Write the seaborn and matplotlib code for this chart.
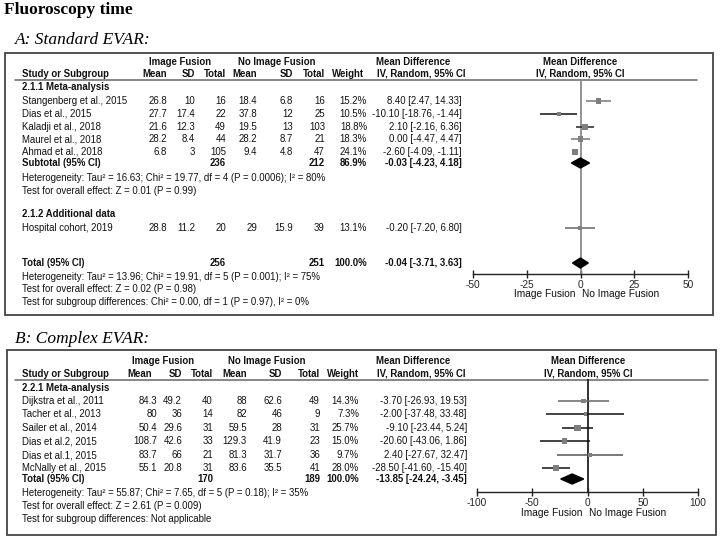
import matplotlib
matplotlib.use("Agg")
import matplotlib.pyplot as plt
import seaborn as sns
from matplotlib.patches import Rectangle

# ---- Panel A: Standard EVAR ----
studies_a = ["Stangenberg et al., 2015", "Dias et al., 2015", "Kaladji et al., 2018",
             "Maurel et al., 2018", "Ahmad et al., 2018"]
if_mean_a = [26.8, 27.7, 21.6, 28.2, 6.8]
if_sd_a = [10, 17.4, 12.3, 8.4, 3]
if_n_a = [16, 22, 49, 44, 105]
nif_mean_a = [18.4, 37.8, 19.5, 28.2, 9.4]
nif_sd_a = [6.8, 12, 13, 8.7, 4.8]
nif_n_a = [16, 25, 103, 21, 47]
weight_a = [15.2, 10.5, 18.8, 18.3, 24.1]
md_a = [8.40, -10.10, 2.10, 0.00, -2.60]
lo_a = [2.47, -18.76, -2.16, -4.47, -4.09]
hi_a = [14.33, -1.44, 6.36, 4.47, -1.11]
subtotal_a = [236, 212, 86.9, -0.03, -4.23, 4.18]

extra_study = ["Hospital cohort, 2019"]
extra_if = [28.8, 11.2, 20]
extra_nif = [29, 15.9, 39]
extra_weight = [13.1]
extra_md = [-0.20]
extra_lo = [-7.20]
extra_hi = [6.80]
total_a = [256, 251, 100.0, -0.04, -3.71, 3.63]

notes_a = [
    "Heterogeneity: Tau\u00b2 = 16.63; Chi\u00b2 = 19.77, df = 4 (P = 0.0006); I\u00b2 = 80%",
    "Test for overall effect: Z = 0.01 (P = 0.99)",
]
notes_total_a = [
    "Heterogeneity: Tau\u00b2 = 13.96; Chi\u00b2 = 19.91, df = 5 (P = 0.001); I\u00b2 = 75%",
    "Test for overall effect: Z = 0.02 (P = 0.98)",
    "Test for subgroup differences: Chi\u00b2 = 0.00, df = 1 (P = 0.97), I\u00b2 = 0%",
]
ticks_a = [-50, -25, 0, 25, 50]

# ---- Panel B: Complex EVAR ----
studies_b = ["Dijkstra et al., 2011", "Tacher et al., 2013", "Sailer et al., 2014",
             "Dias et al.2, 2015", "Dias et al.1, 2015", "McNally et al., 2015"]
if_mean_b = [84.3, 80, 50.4, 108.7, 83.7, 55.1]
if_sd_b = [49.2, 36, 29.6, 42.6, 66, 20.8]
if_n_b = [40, 14, 31, 33, 21, 31]
nif_mean_b = [88, 82, 59.5, 129.3, 81.3, 83.6]
nif_sd_b = [62.6, 46, 28, 41.9, 31.7, 35.5]
nif_n_b = [49, 9, 31, 23, 36, 41]
weight_b = [14.3, 7.3, 25.7, 15.0, 9.7, 28.0]
md_b = [-3.70, -2.00, -9.10, -20.60, 2.40, -28.50]
lo_b = [-26.93, -37.48, -23.44, -43.06, -27.67, -41.60]
hi_b = [19.53, 33.48, 5.24, 1.86, 32.47, -15.40]
total_b = [170, 189, 100.0, -13.85, -24.24, -3.45]
notes_b = [
    "Heterogeneity: Tau\u00b2 = 55.87; Chi\u00b2 = 7.65, df = 5 (P = 0.18); I\u00b2 = 35%",
    "Test for overall effect: Z = 2.61 (P = 0.009)",
    "Test for subgroup differences: Not applicable",
]
ticks_b = [-100, -50, 0, 50, 100]

W, H = 721, 540
SANS = "Liberation Sans"
SERIF = "Liberation Serif"
FS = 6.9

sns.set_theme(style="white")
plt.rcParams["font.family"] = [SANS, "DejaVu Sans"]

fig = plt.figure(figsize=(W / 100, H / 100), dpi=100)
ax = fig.add_axes([0, 0, 1, 1])
ax.set_xlim(0, W)
ax.set_ylim(H, 0)
ax.axis("off")


def txt(x, y, s, ha="left", bold=False, size=FS):
    ax.text(x, y, s, ha=ha, va="center", fontsize=size,
            fontweight="bold" if bold else "normal", color="#111111")


def fmt_ci(m, lo, hi):
    return f"{m:.2f} [{lo:.2f}, {hi:.2f}]"


def study_row(y, cols, name, vals, weight, md, lo, hi):
    txt(cols["name"], y, name)
    for key, v in zip(["m1", "s1", "n1", "m2", "s2", "n2"], vals):
        txt(cols[key], y, f"{v:g}", ha="right")
    txt(cols["w"], y, f"{weight:.1f}%", ha="right")
    txt(cols["md"], y, fmt_ci(md, lo, hi), ha="right")


def total_row(y, cols, label, tot):
    txt(cols["name"], y, label, bold=True)
    txt(cols["n1"], y, f"{tot[0]}", ha="right", bold=True)
    txt(cols["n2"], y, f"{tot[1]}", ha="right", bold=True)
    txt(cols["w"], y, f"{tot[2]:.1f}%", ha="right", bold=True)
    txt(cols["md"], y, fmt_ci(tot[3], tot[4], tot[5]), ha="right", bold=True)


def header(y1, y2, cols, hdr, line_x1):
    txt(hdr["if"], y1, "Image Fusion", ha="center", bold=True)
    txt(hdr["nif"], y1, "No Image Fusion", ha="center", bold=True)
    txt(hdr["md"], y1, "Mean Difference", ha="center", bold=True)
    txt(hdr["plot"], y1, "Mean Difference", ha="center", bold=True)
    txt(cols["name"], y2, "Study or Subgroup", bold=True)
    for key, lab in zip(["m1h", "s1", "n1", "m2h", "s2", "n2", "wh"],
                        ["Mean", "SD", "Total", "Mean", "SD", "Total", "Weight"]):
        txt(cols[key], y2, lab, ha="right", bold=True)
    txt(hdr["md"] + 8, y2, "IV, Random, 95% CI", ha="center", bold=True)
    txt(hdr["plot"], y2, "IV, Random, 95% CI", ha="center", bold=True)
    ax.plot([15, line_x1], [y2 + 6, y2 + 6], color="#666666", lw=1.1)


def forest(rect_px, xlim, ticks, ymin, ymax, md, lo, hi, weight, rows, line_cols,
           diamonds, labels_y, zero_col):
    x0, x1 = rect_px
    axf = fig.add_axes([x0 / W, 1 - ymax / H, (x1 - x0) / W, (ymax - ymin) / H])
    axf.set_xlim(xlim)
    axf.set_ylim(ymax, ymin)
    axf.patch.set_alpha(0)
    for sp in ["top", "right", "left"]:
        axf.spines[sp].set_visible(False)
    axf.spines["bottom"].set_color("#222222")
    axf.spines["bottom"].set_linewidth(1.0)
    axf.axvline(0, color=zero_col, lw=1.3, zorder=1)
    axf.hlines(rows, lo, hi, colors=line_cols, lw=1.1, zorder=2)
    sns.scatterplot(x=md, y=rows, size=weight, sizes=(0, 27), size_norm=(0, 30),
                    marker="s", color="#7f7f7f", linewidth=0, legend=False,
                    ax=axf, zorder=3)
    for y, m, l, h in diamonds:
        axf.fill([l, m, h, m], [y, y - 5, y, y + 5], color="black", zorder=4)
    axf.set_xticks(ticks)
    axf.set_xticklabels([str(t) for t in ticks], fontsize=FS + 0.4)
    axf.tick_params(axis="x", direction="inout", length=6, width=1.0, pad=1,
                    color="#222222", bottom=True)
    axf.set_yticks([])
    axf.set_xlabel("")
    axf.set_ylabel("")
    zero = x0 + (x1 - x0) * (0 - xlim[0]) / (xlim[1] - xlim[0])
    txt(zero - 36, labels_y, "Image Fusion", ha="center", size=FS + 0.4)
    txt(zero + 40, labels_y, "No Image Fusion", ha="center", size=FS + 0.4)
    return axf


# titles
ax.text(4, 10, "Fluoroscopy time", fontsize=12.5, fontweight="bold",
        family=SERIF, va="center", ha="left", color="black")
ax.text(15, 40, "A: Standard EVAR:", fontsize=12.5, style="italic",
        family=SERIF, va="center", ha="left", color="black")
ax.text(15, 339, "B: Complex EVAR:", fontsize=12.5, style="italic",
        family=SERIF, va="center", ha="left", color="black")

# boxes
ax.add_patch(Rectangle((5, 53), 708, 262, fill=False, ec="#444444", lw=1.3))
ax.add_patch(Rectangle((7, 350), 709, 185, fill=False, ec="#444444", lw=1.3))

# ---- Panel A table ----
cols_a = dict(name=22, m1=167, m1h=167, s1=195, n1=226, m2=257, m2h=257, s2=293,
              n2=325, w=367, wh=364, md=462)
hdr_a = dict(**{"if": 180, "nif": 277, "md": 413, "plot": 580})
header(62, 74, cols_a, hdr_a, 697)
txt(22, 87, "2.1.1 Meta-analysis", bold=True)
rows_a = [101, 114, 127, 139, 152]
for i, y in enumerate(rows_a):
    study_row(y, cols_a, studies_a[i],
              [if_mean_a[i], if_sd_a[i], if_n_a[i], nif_mean_a[i], nif_sd_a[i], nif_n_a[i]],
              weight_a[i], md_a[i], lo_a[i], hi_a[i])
total_row(163, cols_a, "Subtotal (95% CI)", subtotal_a)
txt(22, 178, notes_a[0])
txt(22, 191, notes_a[1])
txt(22, 214, "2.1.2 Additional data", bold=True)
study_row(228, cols_a, extra_study[0], extra_if + extra_nif, extra_weight[0],
          extra_md[0], extra_lo[0], extra_hi[0])
total_row(263, cols_a, "Total (95% CI)", total_a)
for y, s in zip([277, 289, 302], notes_total_a):
    txt(22, y, s)

forest((473, 688), (-50, 50), ticks_a, 80, 274,
       md_a + extra_md, lo_a + extra_lo, hi_a + extra_hi, weight_a + extra_weight,
       rows_a + [228], ["#777777", "#111111", "#222222", "#777777", "#777777", "#666666"],
       [(163, subtotal_a[3], subtotal_a[4], subtotal_a[5]),
        (263, total_a[3], total_a[4], total_a[5])],
       294, "#8a8a8a")

# ---- Panel B table ----
cols_b = dict(name=22, m1=157, m1h=152, s1=182, n1=213, m2=247, m2h=247, s2=282,
              n2=320, w=359, wh=359, md=467)
hdr_b = dict(**{"if": 163, "nif": 267, "md": 413, "plot": 588})
header(361, 374, cols_b, hdr_b, 708)
txt(22, 388, "2.2.1 Meta-analysis", bold=True)
rows_b = [401, 414, 428, 441, 455, 468]
for i, y in enumerate(rows_b):
    study_row(y, cols_b, studies_b[i],
              [if_mean_b[i], if_sd_b[i], if_n_b[i], nif_mean_b[i], nif_sd_b[i], nif_n_b[i]],
              weight_b[i], md_b[i], lo_b[i], hi_b[i])
total_row(479, cols_b, "Total (95% CI)", total_b)
for y, s in zip([493, 506, 519], notes_b):
    txt(22, y, s)

forest((477, 698), (-100, 100), ticks_b, 379, 492,
       md_b, lo_b, hi_b, weight_b, rows_b,
       ["#666666", "#111111", "#111111", "#111111", "#555555", "#111111"],
       [(479, total_b[3], total_b[4], total_b[5])],
       513, "#222222")

fig.savefig("out.png", dpi=100)
